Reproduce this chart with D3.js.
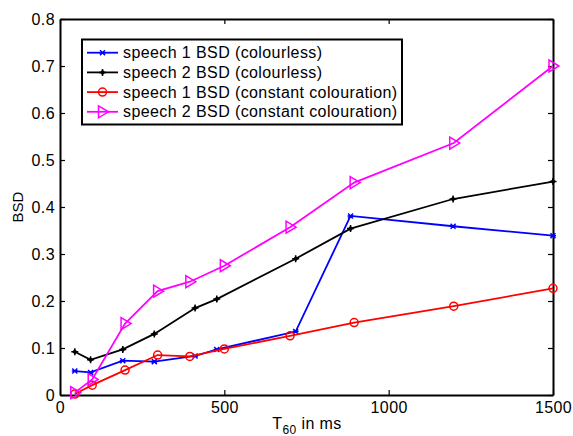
<!DOCTYPE html>
<html>
<head>
<meta charset="utf-8">
<script src="https://cdn.jsdelivr.net/npm/d3@7"></script>
<style>
  body { margin: 0; background: #fff; }
  svg { font-family: "Liberation Sans", Arial, sans-serif; }
</style>
</head>
<body>
<svg id="chart" width="573" height="436"></svg>
<script>
// T60 values (ms) for each group of measurements
const t60Colourless = [45, 93, 191, 287, 411, 477, 717, 884, 1196, 1500];
const t60Colouration = [45, 98, 198, 297, 395, 500, 700, 895, 1198, 1500];

const speech1Colourless = [0.051, 0.048, 0.073, 0.071, 0.083, 0.097, 0.135, 0.381, 0.359, 0.339];
const speech2Colourless = [0.092, 0.075, 0.097, 0.130, 0.185, 0.204, 0.290, 0.354, 0.417, 0.454];
const speech1Colouration = [0.002, 0.021, 0.053, 0.085, 0.082, 0.098, 0.126, 0.154, 0.189, 0.227];
const speech2Colouration = [0.005, 0.033, 0.152, 0.221, 0.241, 0.275, 0.357, 0.452, 0.536, 0.700];

const seriesNames = [
  "speech 1 BSD (colourless)",
  "speech 2 BSD (colourless)",
  "speech 1 BSD (constant colouration)",
  "speech 2 BSD (constant colouration)"
];

const xTicks = [0, 500, 1000, 1500];
const yTicks = [0, 0.1, 0.2, 0.3, 0.4, 0.5, 0.6, 0.7, 0.8];

const series = [
  { name: seriesNames[0], xs: t60Colourless, ys: speech1Colourless, color: "#0000ff", marker: "point" },
  { name: seriesNames[1], xs: t60Colourless, ys: speech2Colourless, color: "#000000", marker: "plus" },
  { name: seriesNames[2], xs: t60Colouration, ys: speech1Colouration, color: "#ff0000", marker: "circle" },
  { name: seriesNames[3], xs: t60Colouration, ys: speech2Colouration, color: "#ff00ff", marker: "triangle" }
];

const svg = d3.select("#chart");
const mLeft = 60, mRight = 553, mTop = 19, mBottom = 395;
const fontSize = 16, spacing = 0.4;

const x = d3.scaleLinear().domain([0, 1500]).range([mLeft, mRight]);
const y = d3.scaleLinear().domain([0, 0.8]).range([mBottom, mTop]);

// frame and ticks (MATLAB style box, ticks pointing inward)
const frame = svg.append("g");
frame.append("g")
  .attr("transform", `translate(0,${mBottom})`)
  .call(d3.axisBottom(x).tickValues(xTicks).tickSizeInner(-5).tickSizeOuter(0).tickPadding(6.5).tickFormat(d3.format("d")));
frame.append("g")
  .attr("transform", `translate(0,${mTop})`)
  .call(d3.axisTop(x).tickValues(xTicks).tickSizeInner(-5).tickSizeOuter(0).tickFormat(""));
frame.append("g")
  .attr("transform", `translate(${mLeft},0)`)
  .call(d3.axisLeft(y).tickValues(yTicks).tickSizeInner(-5).tickSizeOuter(0).tickPadding(5).tickFormat(d => d === 0 ? "0" : d3.format(".1f")(d)));
frame.append("g")
  .attr("transform", `translate(${mRight},0)`)
  .call(d3.axisRight(y).tickValues(yTicks).tickSizeInner(-5).tickSizeOuter(0).tickFormat(""));

frame.selectAll(".domain").attr("stroke", "#000").attr("stroke-width", 2);
frame.selectAll(".tick line").attr("stroke", "#000").attr("stroke-width", 1.2);
frame.selectAll(".tick text").attr("font-size", fontSize).attr("fill", "#000")
  .attr("letter-spacing", spacing)
  .attr("font-family", "Liberation Sans, Arial, sans-serif");

// axis labels
const xl = svg.append("text")
  .attr("x", 307).attr("y", 429)
  .attr("text-anchor", "middle")
  .attr("letter-spacing", spacing)
  .attr("font-size", fontSize);
xl.append("tspan").text("T");
xl.append("tspan").attr("font-size", 12).attr("dy", 5).text("60");
xl.append("tspan").attr("dy", -5).text(" in ms");

svg.append("text")
  .attr("transform", "translate(23,207) rotate(-90)")
  .attr("text-anchor", "middle")
  .attr("font-size", 15)
  .text("BSD");

function drawMarker(g, type, color) {
  if (type === "point") {
    g.append("path").attr("d", "M-2.5,-2.5L2.5,2.5M-2.5,2.5L2.5,-2.5M-3,0L3,0")
      .attr("stroke", color).attr("stroke-width", 1.5);
  } else if (type === "plus") {
    g.append("path").attr("d", "M0,-3.5L3.5,0L0,3.5L-3.5,0Z").attr("fill", color).attr("transform", "scale(0.8)");
    g.append("path").attr("d", "M-3.5,0L3.5,0M0,-3.5L0,3.5").attr("stroke", color).attr("stroke-width", 1.5);
  } else if (type === "circle") {
    g.append("circle").attr("r", 4).attr("fill", "none").attr("stroke", color).attr("stroke-width", 1.5);
  } else if (type === "triangle") {
    g.append("path").attr("d", "M-4,-6L6,0L-4,6Z").attr("fill", "none").attr("stroke", color).attr("stroke-width", 1.5);
  }
}

const line = d3.line().x(d => x(d[0])).y(d => y(d[1]));

const plot = svg.append("g");
series.forEach(s => {
  const pts = s.xs.map((v, i) => [v, s.ys[i]]);
  plot.append("path")
    .datum(pts)
    .attr("d", line)
    .attr("fill", "none")
    .attr("stroke", s.color)
    .attr("stroke-width", 1.8);
  pts.forEach(p => {
    const g = plot.append("g").attr("transform", `translate(${x(p[0])},${y(p[1])})`);
    drawMarker(g, s.marker, s.color);
  });
});

// legend
const legend = svg.append("g");
legend.append("rect")
  .attr("x", 82).attr("y", 39.5).attr("width", 320).attr("height", 85)
  .attr("fill", "#fff").attr("stroke", "#000").attr("stroke-width", 2);
series.forEach((s, i) => {
  const ly = 52.7 + i * 19.7;
  legend.append("line")
    .attr("x1", 87).attr("x2", 118).attr("y1", ly).attr("y2", ly)
    .attr("stroke", s.color).attr("stroke-width", 1.8);
  const g = legend.append("g").attr("transform", `translate(102.5,${ly})`);
  drawMarker(g, s.marker, s.color);
  legend.append("text")
    .attr("x", 123).attr("y", ly + 5.5)
    .attr("font-size", fontSize)
    .attr("letter-spacing", spacing)
    .text(s.name);
});
</script>
</body>
</html>
